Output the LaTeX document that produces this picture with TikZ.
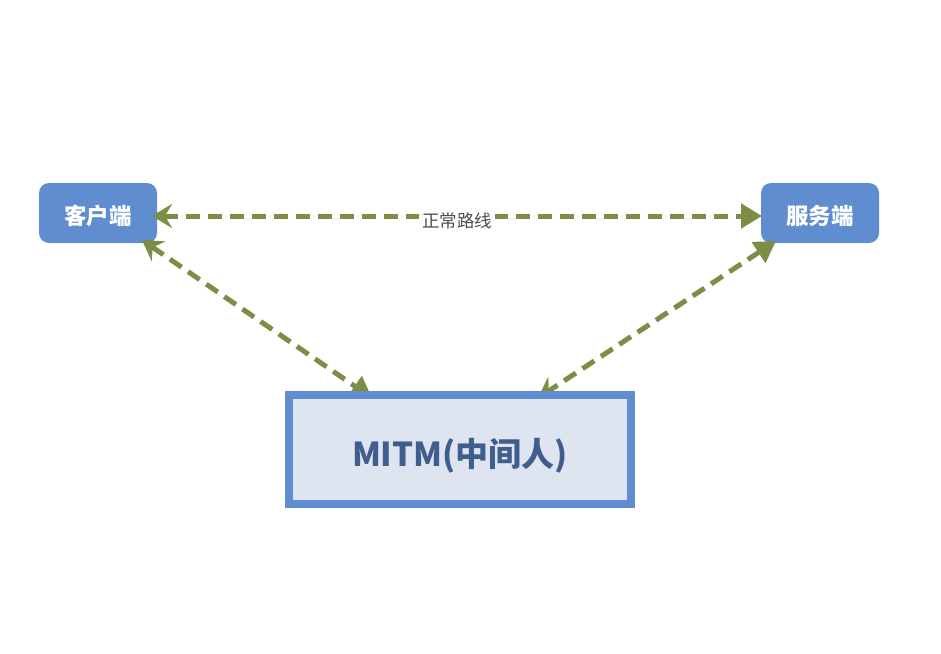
\documentclass[tikz,border=0pt]{standalone}
\usepackage{fontspec}
\newfontfamily\cjk{Noto Sans CJK SC}
\usetikzlibrary{arrows.meta}
\definecolor{boxblue}{HTML}{5F8DD0}
\definecolor{boxfill}{HTML}{DEE5F0}
\definecolor{mtext}{HTML}{3F5E8D}
\definecolor{agreen}{HTML}{7A8E45}
\begin{document}
\begin{tikzpicture}[x=1pt,y=-1pt,
  endbox/.style={fill=boxblue, rounded corners=10pt, minimum width=118pt, minimum height=60pt, inner sep=0pt, text height=23pt, text depth=0pt, text=white, font=\cjk\bfseries\fontsize{22.5}{26}\selectfont},
  link/.style={draw=agreen, line width=5pt, dash pattern=on 14pt off 8pt,
    {Stealth[length=20pt,width=24pt,inset=7pt]}-{Triangle[length=21pt,width=24pt]}},
  lbl/.style={fill=white, inner sep=3pt, text=black!70, font=\cjk\fontsize{17.5}{20}\selectfont}]
\useasboundingbox (0,0) rectangle (941,653);
\node[endbox] (c) at (98,213) {客户端};
\node[endbox] (s) at (820,213) {服务端};
\coordinate (c1) at (152,216);
\coordinate (s1) at (762,216);
\coordinate (c2) at (142,240);
\coordinate (m1) at (372,398);
\coordinate (m2) at (538,398);
\coordinate (s2) at (776,241);
\draw[link] (c1) -- node[lbl, yshift=-5pt]{正常路线} (s1);
\draw[link] (c2) -- (m1);
\draw[link, {Triangle[length=21pt,width=24pt]}-{Stealth[length=20pt,width=24pt,inset=7pt]}] (s2) -- (m2);
\node[draw=boxblue, line width=8pt, fill=boxfill, minimum width=342pt, minimum height=109pt, text height=34pt, text depth=0pt, text=mtext, font=\cjk\bfseries\fontsize{33}{38}\selectfont] (m) at (460,449.5) {MITM(中间人)};
\end{tikzpicture}
\end{document}
